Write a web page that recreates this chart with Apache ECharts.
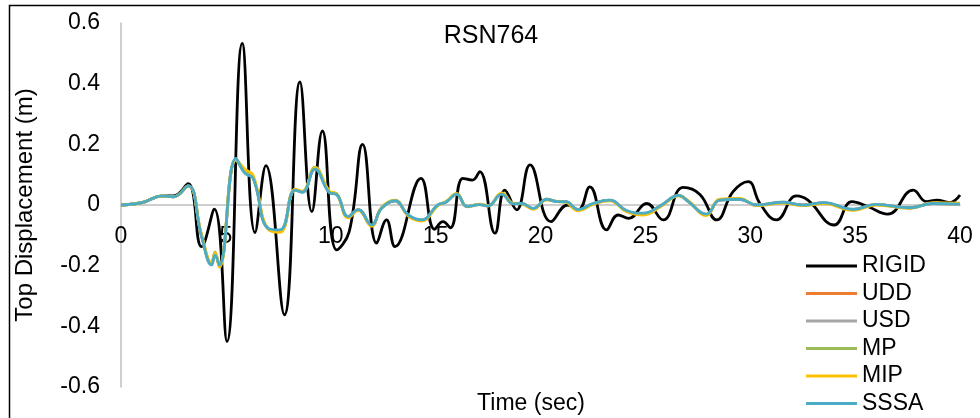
<!DOCTYPE html>
<html>
<head>
<meta charset="utf-8">
<script src="https://cdn.jsdelivr.net/npm/echarts@6/dist/echarts.min.js"></script>
<style>
  html, body { margin: 0; padding: 0; background: #fff; }
  #chart { width: 980px; height: 418px; }
</style>
</head>
<body>
<div id="chart"></div>
<script>
// Roof displacement histories for record RSN764
const seriesNames = ['RIGID', 'UDD', 'USD', 'MP', 'MIP', 'SSSA'];
const xTicks = [0, 5, 10, 15, 20, 25, 30, 35, 40];
const yTicks = [-0.6, -0.4, -0.2, 0, 0.2, 0.4, 0.6];

// fixed-base (rigid) response
const rigidTime = [0, 1.0, 2.0, 2.5, 3.2, 3.84, 4.45, 5.05, 5.78, 6.39, 6.91, 7.79, 8.53, 9.1, 9.6,
  10.28, 10.88, 11.52, 12.19, 12.66, 13.06, 14.3, 14.95, 15.35, 15.7, 16.3, 16.75, 17.1, 17.83, 18.3,
  18.86, 19.5, 20.5, 21.3, 21.8, 22.35, 23.15, 23.7, 24.2, 25.06, 25.85, 26.8, 27.6, 28.4, 29.18,
  29.9, 30.46, 31.25, 32.2, 32.75, 34.0, 34.85, 35.6, 36.55, 37.77, 38.4, 38.9, 39.5, 40];
const rigidDisp = [0, 0.008, 0.03, 0.03, 0.07, -0.137, -0.014, -0.45, 0.533, -0.091, 0.13, -0.362, 0.406, -0.022, 0.244,
  -0.148, -0.088, 0.2, -0.126, -0.049, -0.137, 0.088, -0.08, -0.055, -0.075, 0.088, 0.082, 0.11, -0.093, 0.049,
  -0.016, 0.132, -0.055, 0.0, -0.016, 0.06, -0.082, -0.033, -0.044, 0.005, -0.049, 0.058, 0.035, -0.049, 0.044,
  0.077, 0.005, -0.049, 0.03, 0.016, -0.066, 0.011, -0.005, -0.03, 0.049, 0.011, 0.016, 0.008, 0.033];

// time samples shared by the soil-structure models
const ssiTime = [0, 1, 2, 2.5, 3.2, 3.84, 4.32, 4.48, 4.69, 5.48, 5.91, 6.3, 7.02, 7.58, 8.3,
  8.65, 9.25, 9.95, 10.28, 10.83, 11.31, 11.95, 12.42, 13.06, 13.7, 14.33, 15.1, 15.5, 16.0, 16.5,
  17.1, 17.5, 18.15, 18.7, 19.1, 19.65, 20.3, 20.8, 21.2, 21.8, 22.5, 23.3, 24.1, 24.9, 25.7,
  26.6, 27.05, 27.9, 28.55, 29.5, 30.3, 31.57, 32.5, 33.5, 34.9, 36.0, 37.6, 38.7, 40];
const uddDisp = [0, 0.008, 0.03, 0.027, 0.063, -0.102, -0.196, -0.162, -0.2, 0.15, 0.107, 0.09, -0.078, -0.085, 0.049,
  0.043, 0.12, 0.041, 0.035, -0.039, -0.015, -0.067, -0.011, 0.014, -0.034, -0.05, 0.0, 0.01, 0.036, -0.005,
  0.001, -0.003, 0.037, 0.004, 0.005, -0.012, 0.019, 0.011, 0.011, -0.016, 0.004, 0.016, -0.019, -0.028, -0.004,
  0.032, 0.011, -0.031, 0.016, 0.019, 0.0, 0.009, 0.0, 0.007, -0.015, 0.002, -0.009, 0.005, 0.003];
const usdDisp = [0, 0.008, 0.03, 0.027, 0.063, -0.101, -0.195, -0.16, -0.201, 0.151, 0.108, 0.091, -0.079, -0.086, 0.05,
  0.043, 0.121, 0.042, 0.036, -0.039, -0.016, -0.067, -0.01, 0.014, -0.034, -0.05, 0.0, 0.01, 0.036, -0.005,
  0.002, -0.003, 0.037, 0.005, 0.005, -0.012, 0.018, 0.011, 0.01, -0.016, 0.004, 0.015, -0.02, -0.029, -0.004,
  0.031, 0.012, -0.031, 0.017, 0.019, 0.0, 0.008, -0.001, 0.007, -0.015, 0.001, -0.009, 0.005, 0.004];
const mpDisp = [0, 0.008, 0.03, 0.027, 0.063, -0.1, -0.195, -0.155, -0.2, 0.148, 0.11, 0.092, -0.08, -0.088, 0.05,
  0.044, 0.125, 0.043, 0.036, -0.04, -0.016, -0.068, -0.01, 0.015, -0.035, -0.05, -0.001, 0.011, 0.037, -0.005,
  0.002, -0.003, 0.038, 0.005, 0.005, -0.012, 0.018, 0.011, 0.01, -0.017, 0.003, 0.015, -0.02, -0.03, -0.005,
  0.031, 0.012, -0.032, 0.017, 0.02, -0.001, 0.008, -0.001, 0.006, -0.016, 0.001, -0.01, 0.006, 0.004];
const mipDisp = [0, 0.008, 0.03, 0.027, 0.062, -0.098, -0.19, -0.158, -0.205, 0.15, 0.118, 0.098, -0.08, -0.09, 0.052,
  0.045, 0.122, 0.045, 0.038, -0.042, -0.018, -0.07, -0.008, 0.016, -0.037, -0.053, -0.003, 0.012, 0.038, -0.006,
  0.003, -0.003, 0.04, 0.006, 0.004, -0.014, 0.017, 0.012, 0.009, -0.019, 0.002, 0.014, -0.022, -0.033, -0.007,
  0.03, 0.014, -0.035, 0.019, 0.022, -0.002, 0.006, -0.002, 0.005, -0.018, 0.0, -0.011, 0.008, 0.006];
const sssaDisp = [0, 0.008, 0.03, 0.027, 0.063, -0.104, -0.198, -0.165, -0.198, 0.154, 0.104, 0.088, -0.077, -0.082, 0.049,
  0.042, 0.118, 0.04, 0.035, -0.038, -0.015, -0.066, -0.011, 0.014, -0.033, -0.049, 0.0, 0.01, 0.036, -0.005,
  0.001, -0.003, 0.036, 0.004, 0.005, -0.011, 0.019, 0.011, 0.011, -0.015, 0.005, 0.016, -0.018, -0.027, -0.003,
  0.032, 0.011, -0.03, 0.016, 0.019, 0.0, 0.009, 0.0, 0.008, -0.014, 0.002, -0.009, 0.005, 0.003];

const colors = ['#000000', '#ED7D31', '#A5A5A5', '#9BBB59', '#FFC000', '#4BACC6'];
const FONT = '"Liberation Sans", Arial, sans-serif';

function pairs(xs, ys) { return xs.map((x, i) => [x, ys[i]]); }

const values = [
  pairs(rigidTime, rigidDisp),
  pairs(ssiTime, uddDisp),
  pairs(ssiTime, usdDisp),
  pairs(ssiTime, mpDisp),
  pairs(ssiTime, mipDisp),
  pairs(ssiTime, sssaDisp)
];

const GRID_TOP = 23, GRID_BOTTOM = 31, H = 418;
const plotHeight = H - GRID_TOP - GRID_BOTTOM;
const axisLineStyle = { color: '#BFBFBF', width: 1.5 };

const chart = echarts.init(document.getElementById('chart'), null, { renderer: 'canvas' });
chart.setOption({
  animation: false,
  backgroundColor: '#ffffff',
  textStyle: { fontFamily: FONT },
  grid: { left: 121, right: 20, top: GRID_TOP, bottom: GRID_BOTTOM, containLabel: false, outerBoundsMode: 'none' },
  xAxis: {
    type: 'value',
    min: xTicks[0], max: xTicks[xTicks.length - 1], interval: xTicks[1] - xTicks[0],
    position: 'bottom',
    // the time axis runs along the zero-displacement line (middle of the symmetric range)
    offset: -plotHeight / 2,
    axisLine: { show: true, onZero: false, lineStyle: axisLineStyle },
    axisTick: { show: false },
    splitLine: { show: false },
    axisLabel: { fontSize: 23, color: '#000', margin: 20, fontFamily: FONT }
  },
  yAxis: {
    type: 'value',
    min: yTicks[0], max: yTicks[yTicks.length - 1], interval: 0.2,
    axisLine: { show: true, lineStyle: axisLineStyle },
    axisTick: { show: false },
    splitLine: { show: false },
    axisLabel: {
      fontSize: 23, color: '#000', margin: 21, fontFamily: FONT,
      formatter: v => String(Math.round(v * 10) / 10)
    }
  },
  legend: {
    orient: 'vertical',
    left: 806, top: 254, height: 175, padding: 0,
    itemWidth: 51, itemHeight: 14, itemGap: 3.5,
    data: seriesNames.map((n, i) => ({
      name: n,
      icon: 'path://M0,6 L51,6 L51,9 L0,9 Z',
      itemStyle: { color: colors[i] }
    })),
    textStyle: { fontSize: 23, color: '#000', fontFamily: FONT, lineHeight: 24 }
  },
  graphic: [
    { type: 'rect', left: 7, top: 3, silent: true,
      shape: { width: 990, height: 430 },
      style: { fill: 'none', stroke: '#000', lineWidth: 1.5 } },
    { type: 'text', x: 491, y: 36, silent: true,
      style: { text: 'RSN764', fontSize: 25, fontFamily: FONT, fill: '#000', align: 'center', verticalAlign: 'middle' } },
    { type: 'text', x: 531, y: 404, silent: true,
      style: { text: 'Time (sec)', fontSize: 23, fontFamily: FONT, fill: '#000', align: 'center', verticalAlign: 'middle' } },
    { type: 'text', x: 25, y: 205, rotation: Math.PI / 2, silent: true,
      style: { text: 'Top Displacement (m)', fontSize: 24, fontFamily: FONT, fill: '#000', align: 'center', verticalAlign: 'middle' } }
  ],
  series: seriesNames.map((n, i) => ({
    name: n,
    type: 'line',
    data: values[i],
    smooth: 0.45,
    symbol: 'none',
    lineStyle: { color: colors[i], width: 2.8 },
    itemStyle: { color: colors[i] },
    z: 2 + i
  }))
});
</script>
</body>
</html>
